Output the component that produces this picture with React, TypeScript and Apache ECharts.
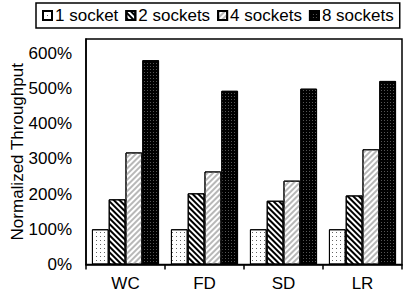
import React, { useEffect, useRef } from "react";
import * as echarts from "echarts";

const categories = ["WC", "FD", "SD", "LR"];
const seriesNames = ["1 socket", "2 sockets", "4 sockets", "8 sockets"];
const oneSocket = [100, 100, 100, 100];
const twoSockets = [185, 202, 181, 196];
const fourSockets = [318, 264, 238, 327];
const eightSockets = [580, 493, 499, 521];
const yMax = 640;
const yInterval = 100;

const FONT = "'Liberation Sans', Arial, sans-serif";

export default function App() {
  const ref = useRef<HTMLDivElement>(null);
  useEffect(() => {
    if (!ref.current) return;
    const chart = echarts.init(ref.current, null, { renderer: "svg" });
    const values = [oneSocket, twoSockets, fourSockets, eightSockets];
    const styles: any[] = [
      {
        color: "#ffffff",
        decal: { symbol: "rect", symbolSize: 1, color: "#666", dashArrayX: [1, 3], dashArrayY: [1, 3], rotation: 0 },
      },
      {
        color: "#ffffff",
        decal: { symbol: "rect", symbolSize: 1, color: "#000", dashArrayX: [1, 0], dashArrayY: [2, 2], rotation: Math.PI / 4 },
      },
      {
        color: "#ffffff",
        decal: { symbol: "rect", symbolSize: 1, color: "#b8b8b8", dashArrayX: [1, 0], dashArrayY: [2, 2], rotation: -Math.PI / 4 },
      },
      {
        color: "#000000",
        decal: { symbol: "rect", symbolSize: 1, color: "#555", dashArrayX: [1, 2], dashArrayY: [1, 2], rotation: 0 },
      },
    ];
    chart.setOption({
      animation: false,
      textStyle: { fontFamily: FONT },
      legend: {
        left: 36,
        top: 3,
        data: seriesNames,
        icon: "rect",
        itemWidth: 9,
        itemHeight: 9,
        itemGap: 7,
        padding: [4, 6],
        borderColor: "#000",
        borderWidth: 1.5,
        textStyle: { fontSize: 17, color: "#000", fontFamily: FONT, padding: [0, 0, 0, -2] },
      },
      grid: {
        left: 86,
        right: 5,
        top: 39,
        bottom: 40.5,
        show: true,
        borderColor: "#000",
        borderWidth: 1.5,
        containLabel: false,
        outerBoundsMode: "none",
      },
      xAxis: {
        type: "category",
        data: categories,
        axisLine: { show: true, lineStyle: { color: "#000", width: 1.5 } },
        axisTick: { show: true, length: 5, lineStyle: { color: "#000", width: 1.5 } },
        axisLabel: { fontSize: 17, color: "#000", margin: 10, fontFamily: FONT },
      },
      yAxis: {
        type: "value",
        min: 0,
        max: yMax,
        interval: yInterval,
        name: "Normalized Throughput",
        nameLocation: "middle",
        nameGap: 60,
        nameMoveOverlap: false,
        nameTextStyle: { fontSize: 17, color: "#000", fontFamily: FONT },
        axisLine: { show: true, lineStyle: { color: "#000", width: 1.5 } },
        axisTick: { show: false },
        splitLine: { show: false },
        axisLabel: {
          fontSize: 17,
          color: "#000",
          margin: 14,
          fontFamily: FONT,
          formatter: (v: number) => (v % 100 === 0 ? v + "%" : ""),
        },
      },
      series: seriesNames.map((name, i) => ({
        name,
        type: "bar",
        data: values[i],
        barGap: "0%",
        barCategoryGap: "15%",
        itemStyle: { ...styles[i], borderColor: "#000", borderWidth: 1 },
      })),
    });
    return () => chart.dispose();
  }, []);
  return <div ref={ref} style={{ width: 407, height: 305, position: "absolute", left: 0, top: 0 }} />;
}
